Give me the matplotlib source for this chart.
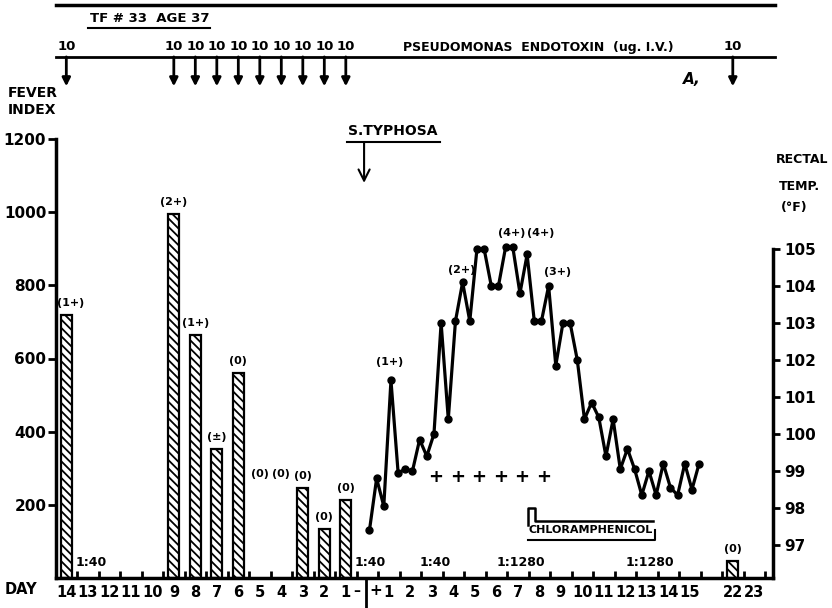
import numpy as np
import matplotlib
matplotlib.use("Agg")
import matplotlib.pyplot as plt

plt.rcParams['font.family'] = ['DejaVu Sans']
plt.rcParams['font.weight'] = 'bold'
plt.rcParams['hatch.linewidth'] = 1.3

# fever index after each endotoxin dose (days before infection are negative)
bar_days = [-14, -9, -8, -7, -6, -3, -2, -1, 22]
fever_index = [720, 995, 665, 352, 560, 245, 135, 212, 46]
bar_notes = ['(1+)', '(2+)', '(1+)', '(±)', '(0)', '(0)', '(0)', '(0)', '(0)']
nobar_days = [-5, -4]
nobar_notes = ['(0)', '(0)']

# endotoxin injections, ug I.V.
dose_days = [-14, -9, -8, -7, -6, -5, -4, -3, -2, -1, 22]
doses = [10, 10, 10, 10, 10, 10, 10, 10, 10, 10, 10]

# rectal temperature, three readings a day from day 0
temps = [97.4, 98.8, 98.05, 101.45, 98.95, 99.05, 99.0, 99.85, 99.4, 100.0,
         103.0, 100.4, 103.05, 104.1, 103.05, 105.0, 105.0, 104.0, 104.0, 105.05,
         105.05, 103.8, 104.85, 103.05, 103.05, 104.0, 101.85, 103.0, 103.0, 102.0,
         100.4, 100.85, 100.45, 99.4, 100.4, 99.05, 99.6, 99.05, 98.35, 99.0,
         98.35, 99.2, 98.55, 98.35, 99.2, 98.5, 99.2]
temp_days = 0.1 + np.arange(len(temps)) / 3.0
temp_notes = ['(1+)', '(2+)', '(4+)', '(4+)', '(3+)']
temp_note_days = [1.06, 4.4, 6.73, 8.08, 8.83]
temp_note_vals = [101.95, 104.43, 105.43, 105.43, 104.38]

culture_days = [3, 4, 5, 6, 7, 8]
titer_days = [-13, 0, 3, 7, 13]
titers = ['1:40', '1:40', '1:40', '1:1280', '1:1280']
chloro_start, chloro_end = 7.48, 13.29

day_labels = ['14', '13', '12', '11', '10', '9', '8', '7', '6', '5', '4', '3', '2', '1', '',
              '1', '2', '3', '4', '5', '6', '7', '8', '9', '10', '11', '12', '13', '14', '15',
              '', '22', '23']


def slot(d):
    d = np.asarray(d, dtype=float)
    return np.where(d > 18, d + 9, d + 14)


fig = plt.figure(figsize=(8.32, 6.08), dpi=100)
W, H = 832, 608
ax = fig.add_axes([56 / W, 30 / H, 717 / W, 439 / H])
ax.set_xlim(-0.48, 32.87)
ax.set_ylim(0, 1200)

ax2 = ax.twinx()
ax2.set_ylim(96.11, 107.97)

for s in ['top', 'right']:
    ax.spines[s].set_visible(False)
for s in ['top', 'left', 'bottom']:
    ax2.spines[s].set_visible(False)
ax.spines['left'].set_linewidth(2.5)
ax.spines['bottom'].set_linewidth(2.5)
ax2.spines['right'].set_linewidth(2.5)
ax2.spines['right'].set_bounds(96.11, 105)

ax.set_yticks([200, 400, 600, 800, 1000, 1200])
ax.set_yticklabels(['200', '400', '600', '800', '1000', '1200'])
ax.tick_params(axis='y', length=6, width=2, labelsize=11, pad=1)
ax2.set_yticks([97, 98, 99, 100, 101, 102, 103, 104, 105])
ax2.tick_params(axis='y', length=5, width=2, labelsize=11, pad=3)

ax.set_xticks(np.arange(len(day_labels)))
ax.set_xticklabels(day_labels, fontsize=10.5)
ax.tick_params(axis='x', which='major', length=0, pad=5)
ax.set_xticks(np.arange(0.5, 32.6, 1.0), minor=True)
ax.tick_params(axis='x', which='minor', direction='in', length=5, width=2)

# fever index bars
bx = slot(bar_days)
ax.bar(bx, fever_index, width=0.5, facecolor='white', edgecolor='black',
       hatch='\\\\\\\\', linewidth=1.6, zorder=2)
for i, (x, v, t) in enumerate(zip(bx, fever_index, bar_notes)):
    dx = 3 if i == 0 else 0
    ax.annotate(t, (x, v), xytext=(dx, 5), textcoords='offset points',
                ha='center', va='bottom', fontsize=8)
for x, t in zip(slot(nobar_days), nobar_notes):
    ax.text(x, 285, t, ha='center', va='center', fontsize=8)

# temperature curve
ax2.plot(slot(temp_days), temps, '-o', color='black', lw=2.3, ms=5, clip_on=False, zorder=3)
for d, v, t in zip(temp_note_days, temp_note_vals, temp_notes):
    ax2.text(slot(d), v, t, ha='center', va='center', fontsize=8)
for d in culture_days:
    ax2.text(slot(d + 0.2), 98.85, '+', ha='center', va='center', fontsize=13)

for d, t in zip(titer_days, titers):
    ax.text(slot(d) + 0.15, 42, t, ha='center', va='center', fontsize=9)

# chloramphenicol course
c0, c1 = slot(chloro_start), slot(chloro_end)
ax2.plot([c0, c0, c0 + 0.3, c0 + 0.3, c1], [97.55, 98.0, 98.0, 97.65, 97.65],
         color='black', lw=1.8, clip_on=False)
ax2.text((c0 + c1) / 2, 97.42, 'CHLORAMPHENICOL', ha='center', va='center', fontsize=8)
ax2.plot([c0, c1 + 0.08, c1 + 0.08], [97.15, 97.15, 97.4], color='black', lw=1.5, clip_on=False)

# day 0 divider and sign marks on the day axis
xt = ax.get_xaxis_transform()
ax.plot([slot(0) - 0.05] * 2, [-0.005, -0.065], transform=xt, color='black', lw=2, clip_on=False)
ax.text(slot(0) - 0.5, -0.029, '–', transform=xt, ha='center', va='center', fontsize=10)
ax.text(slot(0) + 0.4, -0.029, '+', transform=xt, ha='center', va='center', fontsize=11)
fig.text(5 / W, 1 - 590 / H, 'DAY', ha='left', va='center', fontsize=10.5)

# header: patient and endotoxin schedule
ax.plot([-0.5, 32.95], [1.305, 1.305], transform=xt, color='black', lw=2.5, clip_on=False)
ax.plot([-0.5, 32.95], [1.187, 1.187], transform=xt, color='black', lw=2, clip_on=False)
fig.text(150 / W, 1 - 18 / H, 'TF # 33  AGE 37', ha='center', va='center', fontsize=9.5)
fig.add_artist(plt.Line2D([88 / W, 210 / W], [1 - 28 / H, 1 - 28 / H], color='black', lw=1.5))
for d, q in zip(dose_days, doses):
    x = float(slot(d))
    ax.text(x, 1.197, str(q), transform=xt, ha='center', va='bottom', fontsize=9.5)
    ax.annotate('', xy=(x, 1.12), xytext=(x, 1.187), xycoords=xt, annotation_clip=False,
                arrowprops=dict(arrowstyle='-|>', lw=2, color='black', mutation_scale=12,
                                shrinkA=0, shrinkB=0))
fig.text(403 / W, 1 - 47 / H, 'PSEUDOMONAS  ENDOTOXIN  (ug. I.V.)', ha='left', va='center', fontsize=9)
fig.text(692 / W, 1 - 79 / H, 'A,', ha='center', va='center', fontsize=11, style='italic')

# S. typhosa challenge
fig.text(393 / W, 1 - 131 / H, 'S.TYPHOSA', ha='center', va='center', fontsize=10)
fig.add_artist(plt.Line2D([347 / W, 440 / W], [1 - 142 / H, 1 - 142 / H], color='black', lw=1.5))
ax.annotate('', xy=(slot(0) - 0.15, 0.9), xytext=(slot(0) - 0.15, 0.993), xycoords=xt,
            annotation_clip=False,
            arrowprops=dict(arrowstyle='->', lw=1.5, color='black', mutation_scale=20,
                            shrinkA=0, shrinkB=0))

fig.text(8 / W, 1 - 93 / H, 'FEVER', ha='left', va='center', fontsize=10)
fig.text(8 / W, 1 - 110 / H, 'INDEX', ha='left', va='center', fontsize=10)
fig.text(776 / W, 1 - 160 / H, 'RECTAL', ha='left', va='center', fontsize=9)
fig.text(779 / W, 1 - 186 / H, 'TEMP.', ha='left', va='center', fontsize=9)
fig.text(781 / W, 1 - 207 / H, '(°F)', ha='left', va='center', fontsize=9)

fig.savefig('out.png', dpi=100)
